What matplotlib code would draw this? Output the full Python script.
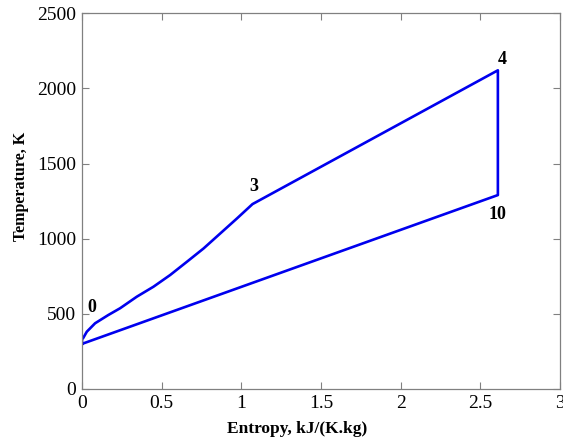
import numpy as np
import matplotlib.pyplot as plt

plt.rcParams['font.family'] = ['Liberation Serif', 'DejaVu Serif']

# compression curve 0 -> 3 (entropy, temperature)
s_comp = [0.0, 0.0, 0.008, 0.03, 0.082, 0.165, 0.239, 0.344, 0.448, 0.553,
          0.658, 0.763, 0.868, 0.973, 1.07]
T_comp = [300, 330, 340, 381, 437, 492, 537, 614, 680, 758,
          846, 935, 1035, 1135, 1230]
# state points 4 and 10, then back to start
s_rest = [2.61, 2.61, 0.0]
T_rest = [2120, 1290, 300]

labels = ['0', '3', '4', '10']
label_s = [0.06, 1.08, 2.635, 2.61]
label_T = [545, 1345, 2190, 1160]

s = np.array(s_comp + s_rest)
T = np.array(T_comp + T_rest)

fig = plt.figure(figsize=(5.63, 4.4), dpi=100)
ax = fig.add_axes([0.1457, 0.116, 0.849, 0.854])
ax.plot(s, T, color='#0000ee', lw=1.9)

for lab, x, y in zip(labels, label_s, label_T):
    ax.text(x, y, lab, fontsize=13, fontweight='bold', ha='center', va='center')

ax.set_xlim(0, 3)
ax.set_ylim(0, 2500)
ax.set_xticks([0, 0.5, 1, 1.5, 2, 2.5, 3])
ax.set_xticklabels(['0', '0.5', '1', '1.5', '2', '2.5', '3'])
ax.set_yticks([0, 500, 1000, 1500, 2000, 2500])
ax.tick_params(direction='in', top=True, right=True, length=5, width=0.8,
               color='#808080', labelsize=14, pad=4)
for sp in ax.spines.values():
    sp.set_color('#808080')
    sp.set_linewidth(0.9)

ax.set_xlabel('Entropy, kJ/(K.kg)', fontsize=12.5, fontweight='bold')
ax.set_ylabel('Temperature, K', fontsize=11.5, fontweight='bold')
ax.xaxis.set_label_coords(0.45, -0.085)
ax.yaxis.set_label_coords(-0.11, 0.54)

fig.savefig('out.png', dpi=100)
